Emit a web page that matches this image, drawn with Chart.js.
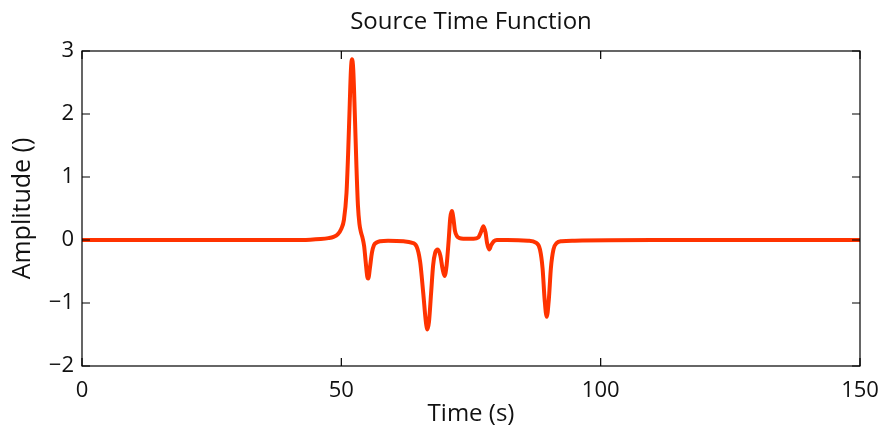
<!DOCTYPE html>
<html>
<head>
<meta charset="utf-8">
<script src="https://cdn.jsdelivr.net/npm/chart.js@4/dist/chart.umd.min.js"></script>
<style>
  html, body { margin: 0; padding: 0; background: #fff; }
  #wrap { width: 878px; height: 429px; }
</style>
</head>
<body>
<div id="wrap"><canvas id="stf"></canvas></div>
<script>
// values (time in s, amplitude)
const times = [0, 40, 44, 46, 47.5, 48.5, 49.3, 50, 50.5, 51, 51.3, 51.6, 51.85, 52.05, 52.3, 52.6, 52.9, 53.2, 53.5, 53.8, 54.1, 54.4, 54.7, 55.0, 55.2, 55.5, 55.9, 56.3, 56.8, 57.5, 59, 62, 63.5, 64.5, 65.2, 65.8, 66.3, 66.6, 66.9, 67.3, 67.7, 68.1, 68.6, 69.1, 69.5, 69.9, 70.3, 70.7, 71.0, 71.3, 71.6, 71.9, 72.3, 72.8, 73.5, 75.5, 76.4, 76.9, 77.4, 77.8, 78.1, 78.5, 78.9, 79.4, 80, 82, 86, 87.5, 88.3, 88.8, 89.2, 89.6, 90.0, 90.4, 90.9, 91.5, 92.5, 95, 110, 150];
const amplitude = [0, 0, 0.005, 0.015, 0.03, 0.05, 0.09, 0.18, 0.32, 0.75, 1.35, 2.1, 2.7, 2.87, 2.7, 2.0, 1.2, 0.55, 0.25, 0.12, 0.03, -0.1, -0.35, -0.58, -0.61, -0.45, -0.2, -0.08, -0.04, -0.02, -0.01, -0.02, -0.04, -0.1, -0.35, -0.85, -1.3, -1.42, -1.3, -0.85, -0.4, -0.2, -0.15, -0.25, -0.45, -0.57, -0.4, 0.0, 0.35, 0.46, 0.35, 0.15, 0.06, 0.03, 0.02, 0.02, 0.04, 0.12, 0.22, 0.12, -0.05, -0.15, -0.08, -0.02, 0, 0, -0.01, -0.04, -0.15, -0.45, -0.95, -1.22, -0.95, -0.45, -0.15, -0.05, -0.02, -0.01, 0, 0];
const xTicks = [0, 50, 100, 150];
const yTicks = [-2, -1, 0, 1, 2, 3];

const FONT = "'Open Sans', sans-serif";
Chart.defaults.font.family = FONT;
Chart.defaults.font.size = 22;
Chart.defaults.color = '#111';

const minus = v => String(v).replace('-', '\u2212');

// matlab style box, inward ticks and title over the plot area
const boxPlugin = {
    id: 'box',
    afterDraw(chart) {
        const { ctx, chartArea: a, scales } = chart;
        ctx.save();
        ctx.strokeStyle = '#000';
        ctx.lineWidth = 1.2;
        ctx.strokeRect(a.left, a.top, a.right - a.left, a.bottom - a.top);
        ctx.beginPath();
        xTicks.forEach(v => {
            const px = scales.x.getPixelForValue(v);
            ctx.moveTo(px, a.bottom); ctx.lineTo(px, a.bottom - 8);
            ctx.moveTo(px, a.top); ctx.lineTo(px, a.top + 8);
        });
        yTicks.forEach(v => {
            const py = scales.y.getPixelForValue(v);
            ctx.moveTo(a.left, py); ctx.lineTo(a.left + 8, py);
            ctx.moveTo(a.right, py); ctx.lineTo(a.right - 8, py);
        });
        ctx.stroke();
        ctx.fillStyle = '#111';
        ctx.font = '24px ' + FONT;
        ctx.textAlign = 'center';
        ctx.textBaseline = 'alphabetic';
        ctx.fillText('Source Time Function', (a.left + a.right) / 2, 29);
        ctx.restore();
    }
};

const ctx = document.getElementById('stf').getContext('2d');
const stfChart = new Chart(ctx, {
    type: 'line',
    data: {
        datasets: [{
            data: times.map((t, i) => ({ x: t, y: amplitude[i] })),
            borderColor: '#ff3300',
            borderWidth: 4,
            pointRadius: 0,
            cubicInterpolationMode: 'monotone',
            fill: false
        }]
    },
    options: {
        responsive: true,
        maintainAspectRatio: false,
        animation: false,
        layout: { padding: { top: 51, right: 18, left: 0, bottom: 0 } },
        plugins: {
            legend: { display: false },
            tooltip: { enabled: false }
        },
        scales: {
            x: {
                type: 'linear',
                min: 0,
                max: 150,
                afterFit: s => { s.height = 63; s.paddingLeft = 0; s.paddingRight = 0; },
                afterBuildTicks: s => { s.ticks = xTicks.map(v => ({ value: v })); },
                grid: { display: false, drawTicks: false },
                border: { display: false },
                ticks: { padding: 12, maxRotation: 0, callback: minus },
                title: { display: true, text: 'Time (s)', font: { size: 24 }, padding: { top: 0, bottom: 0 } }
            },
            y: {
                min: -2,
                max: 3,
                afterFit: s => { s.width = 82; s.paddingTop = 0; s.paddingBottom = 0; },
                afterBuildTicks: s => { s.ticks = yTicks.map(v => ({ value: v })); },
                grid: { display: false, drawTicks: false },
                border: { display: false },
                ticks: { padding: 8, callback: minus },
                title: { display: true, text: 'Amplitude ()', font: { size: 25 }, padding: { top: 8, bottom: 0 } }
            }
        }
    },
    plugins: [boxPlugin]
});
</script>
</body>
</html>
